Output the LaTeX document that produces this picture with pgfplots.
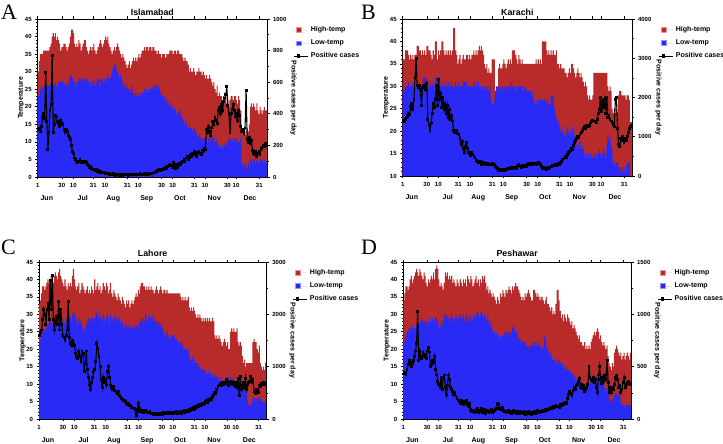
\documentclass[border=0pt]{standalone}
\usepackage{pgfplots}
\pgfplotsset{compat=1.18}
\usepackage{pgfplotstable}
\usepackage{fontspec}
\setmainfont{Liberation Sans}
\newfontfamily\letterfont{Liberation Serif}

\definecolor{hiFill}{RGB}{185,42,42}
\definecolor{hiEdge}{RGB}{240,150,150}
\definecolor{loFill}{RGB}{42,42,246}
\definecolor{loEdge}{RGB}{150,150,255}

% ---------------- Islamabad ----------------
\pgfplotstableread[row sep=\\]{v\\
30\\33\\35\\35\\35\\36\\36\\36\\36\\36\\
36\\37\\38\\40\\41\\40\\41\\39\\40\\39\\
38\\36\\37\\37\\38\\38\\37\\36\\37\\38\\
40\\42\\42\\41\\38\\37\\38\\37\\39\\38\\
36\\37\\38\\39\\39\\37\\36\\35\\36\\37\\
36\\37\\38\\36\\35\\36\\37\\38\\39\\38\\
37\\38\\39\\40\\39\\40\\38\\37\\36\\35\\
36\\37\\36\\37\\38\\37\\36\\35\\34\\35\\
34\\33\\32\\31\\32\\33\\31\\32\\33\\34\\
33\\34\\33\\34\\35\\34\\35\\36\\36\\37\\
36\\37\\37\\36\\37\\37\\36\\37\\37\\36\\
36\\35\\36\\35\\35\\34\\35\\35\\35\\34\\
35\\35\\35\\36\\36\\36\\35\\36\\36\\35\\
36\\36\\35\\35\\35\\34\\33\\34\\33\\33\\
32\\30\\31\\30\\30\\31\\30\\29\\30\\30\\
31\\30\\30\\29\\30\\29\\28\\29\\28\\28\\
29\\28\\27\\26\\27\\25\\24\\26\\23\\24\\
23\\23\\22\\23\\22\\23\\21\\22\\20\\22\\
23\\23\\22\\23\\23\\22\\21\\23\\22\\19\\
14\\13\\12\\13\\12\\14\\13\\15\\20\\21\\
20\\21\\20\\19\\21\\19\\18\\20\\19\\18\\
19\\20\\19\\19\\
}\hA
\pgfplotstableread[row sep=\\]{v\\
23\\23\\25\\26\\25\\26\\26\\25\\26\\26\\
26\\26\\27\\26\\26\\26\\27\\26\\26\\27\\
27\\27\\28\\27\\26\\27\\26\\27\\26\\28\\
29\\29\\28\\27\\27\\26\\27\\27\\28\\28\\
28\\27\\28\\28\\27\\28\\28\\27\\26\\27\\
26\\27\\28\\26\\27\\27\\28\\28\\26\\28\\
28\\27\\28\\27\\28\\29\\28\\28\\29\\30\\
31\\32\\32\\31\\30\\29\\28\\29\\28\\26\\
27\\26\\25\\26\\25\\25\\24\\26\\25\\24\\
23\\24\\23\\24\\23\\24\\23\\24\\24\\25\\
24\\25\\24\\25\\24\\25\\26\\25\\26\\26\\
26\\25\\26\\25\\24\\24\\23\\22\\23\\22\\
21\\22\\21\\20\\21\\20\\19\\20\\19\\18\\
18\\19\\19\\18\\17\\16\\17\\15\\16\\15\\
14\\15\\14\\14\\13\\14\\14\\13\\12\\12\\
11\\12\\11\\10\\11\\11\\10\\11\\10\\11\\
11\\10\\11\\12\\11\\10\\11\\10\\9\\8\\
9\\8\\9\\8\\9\\10\\9\\10\\11\\11\\
10\\11\\10\\11\\11\\10\\11\\10\\10\\11\\
3\\4\\3\\4\\2\\3\\4\\3\\5\\5\\
4\\5\\5\\4\\5\\5\\4\\5\\5\\5\\
4\\5\\4\\4\\
}\lA
\pgfplotstableread[row sep=\\]{v\\
300\\310\\290\\320\\380\\400\\370\\660\\350\\175\\
280\\420\\460\\770\\280\\330\\390\\380\\350\\340\\
320\\360\\330\\340\\300\\280\\300\\290\\260\\250\\
240\\200\\160\\150\\120\\110\\100\\90\\100\\110\\
90\\100\\95\\90\\100\\90\\80\\70\\60\\65\\
55\\50\\45\\40\\45\\35\\40\\30\\35\\30\\
25\\30\\25\\20\\25\\20\\18\\20\\18\\15\\
20\\15\\12\\15\\18\\14\\12\\15\\14\\12\\
15\\18\\14\\15\\12\\14\\16\\15\\14\\13\\
15\\16\\18\\15\\17\\20\\18\\16\\19\\20\\
18\\22\\20\\18\\21\\24\\22\\25\\28\\30\\
35\\40\\38\\45\\42\\48\\50\\45\\55\\60\\
55\\65\\70\\80\\75\\60\\90\\70\\55\\80\\
60\\75\\85\\80\\90\\100\\110\\95\\120\\130\\
110\\125\\140\\130\\150\\140\\160\\145\\130\\155\\
160\\150\\140\\170\\160\\180\\175\\300\\280\\320\\
290\\260\\310\\350\\330\\380\\360\\340\\420\\440\\
400\\460\\420\\480\\500\\520\\570\\450\\400\\280\\
400\\430\\460\\420\\380\\400\\360\\420\\390\\320\\
290\\300\\275\\310\\550\\240\\220\\250\\210\\230\\
170\\150\\140\\160\\130\\150\\160\\140\\180\\190\\
200\\195\\210\\200\\
}\cA

% ---------------- Karachi ----------------
\pgfplotstableread[row sep=\\]{v\\
36\\36\\38\\38\\38\\37\\36\\37\\36\\37\\
36\\37\\37\\39\\39\\38\\38\\37\\38\\37\\
38\\37\\39\\39\\38\\38\\37\\36\\38\\37\\
40\\40\\36\\38\\37\\38\\40\\40\\38\\37\\
38\\37\\38\\37\\38\\37\\38\\43\\43\\38\\
37\\35\\36\\37\\35\\36\\37\\36\\36\\37\\
37\\36\\37\\36\\37\\37\\38\\37\\38\\37\\
38\\39\\38\\39\\38\\37\\35\\34\\35\\33\\
34\\33\\33\\36\\36\\36\\29\\29\\29\\34\\
35\\34\\34\\35\\36\\35\\34\\35\\36\\35\\
36\\35\\38\\38\\38\\37\\36\\35\\37\\36\\
35\\36\\35\\35\\35\\35\\35\\35\\35\\35\\
35\\35\\35\\35\\36\\35\\36\\35\\36\\35\\
40\\40\\40\\40\\38\\37\\38\\37\\38\\37\\
38\\37\\37\\38\\35\\35\\34\\35\\34\\34\\
34\\33\\33\\32\\33\\34\\33\\35\\35\\34\\
33\\32\\33\\34\\33\\32\\33\\32\\31\\30\\
31\\30\\28\\27\\28\\27\\27\\28\\33\\33\\
33\\33\\33\\33\\33\\33\\33\\33\\33\\33\\
33\\30\\29\\30\\29\\25\\24\\25\\24\\25\\
24\\28\\29\\29\\28\\28\\28\\28\\27\\28\\
28\\27\\22\\22\\
}\hB
\pgfplotstableread[row sep=\\]{v\\
29\\29\\30\\30\\30\\31\\30\\30\\30\\31\\
30\\30\\30\\31\\30\\30\\30\\30\\30\\32\\
32\\32\\31\\30\\30\\31\\30\\31\\30\\30\\
32\\32\\32\\32\\32\\30\\31\\30\\30\\31\\
30\\30\\31\\30\\30\\31\\30\\30\\30\\31\\
30\\30\\31\\30\\30\\30\\31\\31\\31\\31\\
30\\30\\30\\30\\30\\30\\31\\30\\31\\30\\
31\\30\\30\\29\\30\\29\\30\\30\\29\\30\\
29\\30\\27\\26\\26\\27\\29\\30\\30\\29\\
30\\30\\29\\30\\30\\30\\29\\30\\30\\30\\
30\\31\\30\\30\\30\\29\\30\\30\\30\\30\\
30\\30\\29\\30\\30\\29\\29\\29\\29\\29\\
28\\29\\27\\26\\27\\26\\27\\27\\27\\27\\
27\\27\\27\\27\\26\\27\\26\\26\\28\\28\\
28\\25\\24\\23\\22\\22\\21\\20\\21\\20\\
19\\20\\19\\21\\20\\19\\20\\19\\21\\20\\
19\\18\\17\\16\\17\\18\\16\\17\\16\\15\\
14\\15\\14\\15\\14\\15\\14\\14\\15\\14\\
15\\14\\15\\16\\15\\14\\15\\16\\15\\14\\
17\\19\\18\\19\\17\\16\\13\\13\\12\\13\\
13\\12\\12\\11\\12\\11\\12\\11\\12\\13\\
13\\13\\10\\10\\
}\lB
\pgfplotstableread[row sep=\\]{v\\
1420\\1380\\1450\\1500\\1520\\1600\\1560\\1780\\1850\\1700\\
1950\\2500\\3000\\2300\\2250\\2300\\2200\\1800\\2250\\2300\\
2280\\2200\\2350\\1450\\1300\\1150\\1350\\1600\\1850\\1750\\
1950\\2300\\1800\\2450\\1950\\2100\\1750\\2000\\1700\\1850\\
1600\\1800\\1500\\1700\\1450\\1550\\1400\\1150\\1100\\1120\\
1150\\1080\\1050\\950\\800\\880\\700\\600\\750\\850\\
700\\600\\580\\520\\600\\550\\500\\480\\400\\380\\
350\\330\\360\\300\\320\\340\\310\\300\\280\\310\\
300\\290\\280\\310\\300\\290\\250\\220\\180\\150\\
160\\150\\170\\140\\160\\150\\170\\180\\200\\180\\
210\\190\\200\\230\\210\\220\\190\\260\\300\\250\\
220\\260\\280\\240\\270\\250\\300\\320\\280\\330\\
310\\300\\330\\310\\290\\320\\350\\330\\300\\250\\
200\\210\\190\\200\\170\\210\\190\\220\\250\\270\\
260\\280\\290\\270\\300\\310\\290\\350\\380\\420\\
450\\500\\480\\550\\600\\620\\650\\700\\680\\780\\
850\\900\\950\\1000\\980\\1050\\1100\\1150\\1200\\1250\\
1200\\1300\\1300\\1250\\1280\\1350\\1380\\1420\\1400\\1380\\
1350\\1450\\1600\\1700\\2000\\1650\\1900\\1750\\1950\\1600\\
2000\\1500\\1550\\1450\\1400\\1350\\1300\\1250\\1950\\2000\\
1200\\800\\750\\950\\900\\1000\\850\\950\\900\\1000\\
1100\\1200\\1250\\1280\\
}\cB

% ---------------- Lahore ----------------
\pgfplotstableread[row sep=\\]{v\\
33\\34\\36\\38\\38\\37\\38\\39\\40\\39\\
40\\41\\40\\39\\41\\42\\41\\40\\42\\43\\
41\\40\\39\\38\\40\\38\\37\\39\\38\\39\\
38\\41\\43\\40\\38\\37\\38\\39\\36\\37\\
39\\38\\37\\36\\37\\38\\36\\37\\36\\38\\
37\\36\\40\\37\\38\\39\\37\\38\\36\\37\\
39\\38\\37\\39\\38\\36\\37\\39\\36\\35\\
37\\36\\35\\34\\36\\35\\34\\33\\35\\34\\
33\\32\\34\\33\\34\\32\\33\\34\\33\\34\\
35\\36\\35\\37\\36\\38\\39\\39\\38\\38\\
37\\38\\37\\38\\37\\38\\37\\37\\36\\37\\
38\\37\\36\\37\\38\\37\\36\\37\\37\\36\\
37\\36\\36\\36\\36\\36\\36\\36\\36\\36\\
36\\36\\36\\35\\34\\35\\34\\35\\34\\34\\
35\\32\\31\\32\\31\\32\\31\\30\\29\\30\\
29\\30\\29\\28\\29\\28\\29\\28\\29\\28\\
29\\28\\28\\29\\28\\24\\23\\24\\23\\24\\
23\\22\\21\\22\\23\\22\\21\\22\\20\\20\\
25\\26\\25\\26\\25\\25\\26\\22\\21\\22\\
21\\18\\16\\17\\15\\16\\16\\16\\16\\16\\
16\\22\\23\\22\\22\\20\\19\\21\\16\\15\\
14\\15\\14\\16\\
}\hC
\pgfplotstableread[row sep=\\]{v\\
22\\23\\24\\25\\26\\25\\26\\27\\27\\28\\
28\\28\\27\\28\\28\\29\\28\\28\\27\\28\\
29\\28\\28\\29\\27\\28\\29\\28\\29\\29\\
28\\30\\31\\30\\29\\28\\27\\29\\28\\28\\
27\\26\\25\\26\\27\\28\\29\\29\\28\\29\\
29\\28\\29\\30\\31\\30\\29\\30\\29\\28\\
30\\29\\28\\29\\30\\29\\27\\30\\29\\28\\
29\\30\\29\\28\\29\\29\\28\\27\\28\\27\\
26\\27\\27\\26\\27\\26\\26\\27\\26\\27\\
26\\27\\27\\26\\28\\28\\29\\28\\29\\28\\
30\\29\\28\\30\\29\\29\\30\\29\\28\\29\\
28\\28\\27\\28\\27\\27\\26\\25\\24\\24\\
25\\24\\23\\23\\24\\24\\24\\24\\23\\23\\
22\\22\\21\\22\\22\\21\\20\\20\\20\\19\\
20\\18\\17\\17\\18\\16\\17\\16\\16\\16\\
15\\15\\14\\15\\14\\14\\14\\13\\13\\14\\
13\\13\\12\\13\\12\\12\\13\\12\\12\\11\\
12\\11\\11\\10\\11\\11\\10\\11\\12\\11\\
12\\11\\11\\12\\11\\10\\10\\9\\10\\9\\
9\\8\\9\\8\\9\\8\\5\\4\\4\\4\\
5\\6\\6\\6\\5\\6\\6\\6\\6\\5\\
5\\5\\5\\5\\
}\lC
\pgfplotstableread[row sep=\\]{v\\
1600\\1650\\1700\\1900\\2100\\2000\\1800\\2100\\2200\\1900\\
2650\\2100\\2750\\1900\\1700\\1850\\1950\\1800\\2250\\1700\\
2100\\1800\\1600\\1550\\1500\\1600\\1700\\2250\\1550\\1450\\
1400\\1500\\1450\\1400\\1250\\1200\\1150\\1300\\1200\\1100\\
1300\\1250\\900\\1050\\1300\\950\\800\\650\\560\\700\\
800\\900\\950\\1100\\1450\\1350\\1200\\1000\\750\\600\\
800\\700\\750\\650\\900\\1000\\800\\650\\600\\560\\
620\\550\\500\\480\\520\\450\\420\\400\\380\\350\\
360\\330\\300\\280\\300\\250\\260\\220\\210\\200\\
180\\60\\150\\300\\200\\150\\140\\160\\130\\150\\
170\\140\\120\\130\\150\\110\\100\\80\\100\\90\\
110\\100\\80\\90\\110\\100\\90\\120\\100\\110\\
120\\100\\130\\110\\120\\100\\110\\130\\120\\140\\
110\\130\\120\\150\\100\\140\\160\\120\\150\\170\\
140\\180\\160\\200\\190\\220\\180\\240\\210\\250\\
240\\280\\260\\300\\270\\290\\330\\350\\320\\380\\
360\\400\\380\\430\\450\\500\\480\\560\\620\\650\\
680\\640\\690\\660\\700\\680\\750\\720\\640\\700\\
680\\720\\650\\700\\620\\690\\600\\780\\450\\810\\
560\\640\\690\\600\\780\\560\\650\\690\\720\\810\\
700\\760\\520\\490\\560\\530\\500\\650\\620\\680\\
660\\690\\650\\680\\
}\cC

% ---------------- Peshawar ----------------
\pgfplotstableread[row sep=\\]{v\\
34\\36\\38\\38\\37\\38\\40\\41\\39\\40\\
41\\42\\43\\42\\41\\43\\42\\41\\40\\42\\
41\\39\\38\\40\\39\\40\\41\\40\\42\\40\\
43\\44\\43\\40\\38\\39\\38\\37\\39\\42\\
41\\42\\40\\41\\40\\41\\39\\40\\39\\38\\
40\\39\\38\\40\\39\\38\\40\\39\\40\\38\\
41\\40\\39\\41\\40\\38\\39\\40\\41\\39\\
40\\38\\40\\39\\41\\40\\41\\39\\37\\38\\
36\\37\\36\\35\\36\\35\\34\\33\\35\\34\\
33\\36\\35\\37\\36\\35\\37\\36\\37\\38\\
37\\36\\38\\37\\38\\39\\38\\38\\37\\36\\
35\\34\\35\\34\\36\\35\\36\\37\\36\\35\\
34\\34\\37\\37\\36\\35\\36\\35\\34\\35\\
35\\34\\33\\34\\35\\33\\33\\32\\31\\32\\
30\\31\\30\\33\\37\\37\\34\\31\\29\\30\\
28\\30\\29\\28\\30\\29\\28\\27\\28\\26\\
27\\26\\25\\24\\23\\24\\22\\22\\21\\21\\
22\\20\\21\\20\\21\\20\\22\\23\\24\\25\\
24\\25\\26\\25\\23\\24\\22\\21\\22\\21\\
20\\21\\18\\16\\15\\14\\16\\15\\19\\20\\
21\\20\\19\\18\\19\\17\\18\\19\\17\\18\\
19\\18\\17\\19\\
}\hD
\pgfplotstableread[row sep=\\]{v\\
22\\22\\24\\25\\25\\26\\26\\26\\27\\26\\
26\\26\\27\\26\\27\\28\\28\\29\\28\\28\\
28\\27\\28\\28\\27\\29\\28\\29\\28\\28\\
29\\29\\28\\27\\26\\28\\27\\28\\30\\30\\
29\\30\\29\\28\\29\\30\\29\\28\\29\\30\\
29\\28\\29\\30\\29\\29\\30\\28\\29\\30\\
29\\28\\30\\29\\28\\29\\30\\29\\30\\31\\
30\\29\\30\\31\\30\\29\\30\\29\\28\\30\\
28\\27\\28\\26\\25\\25\\24\\25\\24\\24\\
23\\24\\23\\24\\24\\25\\25\\24\\25\\25\\
24\\25\\26\\27\\26\\25\\25\\24\\23\\23\\
22\\23\\22\\22\\22\\21\\21\\20\\21\\21\\
21\\22\\21\\21\\22\\21\\21\\22\\21\\20\\
20\\21\\24\\23\\21\\20\\19\\18\\19\\18\\
17\\17\\17\\16\\17\\16\\17\\16\\15\\16\\
15\\15\\14\\14\\15\\14\\13\\14\\13\\13\\
12\\12\\11\\12\\11\\12\\11\\10\\10\\9\\
10\\9\\9\\10\\10\\11\\10\\11\\11\\10\\
11\\12\\12\\11\\12\\11\\10\\11\\11\\9\\
8\\9\\8\\6\\5\\6\\5\\6\\7\\8\\
7\\8\\7\\7\\5\\4\\4\\4\\3\\4\\
4\\4\\4\\4\\
}\lD
\pgfplotstableread[row sep=\\]{v\\
430\\440\\420\\470\\520\\560\\540\\500\\530\\560\\
600\\650\\720\\1030\\560\\650\\600\\580\\640\\600\\
620\\580\\650\\680\\640\\500\\520\\560\\540\\600\\
470\\420\\360\\330\\300\\400\\280\\400\\420\\300\\
230\\320\\420\\380\\300\\280\\260\\230\\250\\220\\
200\\180\\170\\150\\180\\160\\140\\170\\150\\180\\
140\\120\\150\\90\\70\\80\\60\\70\\90\\100\\
60\\80\\70\\100\\60\\80\\90\\50\\70\\80\\
60\\70\\90\\60\\70\\80\\90\\100\\150\\140\\
100\\90\\100\\110\\80\\70\\60\\70\\80\\60\\
70\\50\\60\\80\\70\\60\\50\\70\\60\\50\\
70\\60\\50\\70\\40\\60\\50\\70\\60\\50\\
40\\60\\50\\70\\60\\50\\80\\70\\60\\70\\
80\\75\\85\\90\\80\\95\\90\\100\\100\\110\\
100\\120\\110\\125\\115\\120\\110\\140\\130\\150\\
140\\150\\160\\145\\200\\230\\260\\240\\220\\270\\
300\\280\\320\\330\\360\\390\\300\\330\\290\\320\\
260\\280\\300\\330\\500\\400\\380\\360\\400\\350\\
380\\300\\250\\420\\500\\380\\340\\400\\360\\420\\
380\\560\\350\\250\\300\\250\\300\\280\\330\\400\\
420\\380\\300\\320\\250\\280\\350\\400\\300\\330\\
350\\360\\340\\330\\
}\cD

\tikzset{
  monthlbl/.style={font=\bfseries\fontsize{7}{8}\selectfont, anchor=base, yshift=-23.5pt},
  titlelbl/.style={font=\bfseries\fontsize{8.8}{10}\selectfont, anchor=base},
}

\newcommand\months{%
  \node[monthlbl] at ({axis cs:8,0}|-{rel axis cs:0,0}) {Jun};
  \node[monthlbl] at ({axis cs:41.5,0}|-{rel axis cs:0,0}) {Jul};
  \node[monthlbl] at ({axis cs:70,0}|-{rel axis cs:0,0}) {Aug};
  \node[monthlbl] at ({axis cs:101.2,0}|-{rel axis cs:0,0}) {Sep};
  \node[monthlbl] at ({axis cs:132.3,0}|-{rel axis cs:0,0}) {Oct};
  \node[monthlbl] at ({axis cs:164.3,0}|-{rel axis cs:0,0}) {Nov};
  \node[monthlbl] at ({axis cs:197.6,0}|-{rel axis cs:0,0}) {Dec};
}

\pgfplotsset{
  base/.style={
    scale only axis,
    xmin=-0.5, xmax=213.5,
    tick label style={font=\bfseries\fontsize{6}{7}\selectfont},
    /pgf/number format/assume math mode=true,
    /pgf/number format/1000 sep={},
    tick align=outside,
    major tick length=2.5pt,
    minor tick length=1.5pt,
    axis line style={line width=0.7pt},
    every tick/.append style={line width=0.6pt, black},
    label style={font=\bfseries\fontsize{7}{8}\selectfont},
  },
  tempax/.style={
    base,
    xtick={-0.5,22,32.7,51.4,62.3,83.1,93.4,115.2,125.5,145.7,155.6,176.5,184.6,206.3},
    xticklabels={1,30,10,31,10,31,10,30,10,31,10,30,10,31},
    xtick pos=both, ytick pos=left,
    minor y tick num=4,
    ylabel={Temperature},
    ylabel style={at={(axis description cs:-0.072,0.5)}, anchor=center},
    legend style={draw=none, fill=none, font=\bfseries\fontsize{7}{8}\selectfont,
      at={(axis description cs:1.116,0.965)}, anchor=north west, row sep=2.6pt, inner sep=0pt},
    legend cell align=left,
  },
  caseax/.style={
    base,
    axis x line=none, axis y line*=right,
    ymin=0, minor y tick num=1,
    ylabel={Positive cases per day},
    ylabel style={rotate=180, at={(axis description cs:1.115,0.5)}, anchor=center},
  },
  hibar/.style={ybar, bar width=1, bar shift=0pt, fill=hiFill, draw=none,
    legend image code/.code={\path (0pt,0pt) -- (14pt,0pt); \draw[fill=hiFill, draw=hiEdge, line width=0.7pt] (2.3pt,-2.2pt) rectangle (6.7pt,2.2pt);}},
  lobar/.style={ybar, bar width=1, bar shift=0pt, fill=loFill, draw=none,
    legend image code/.code={\path (0pt,0pt) -- (14pt,0pt); \draw[fill=loFill, draw=loEdge, line width=0.7pt] (2.3pt,-2.2pt) rectangle (6.7pt,2.2pt);}},
  caseline/.style={black, line width=1.1pt, mark=square*, mark size=0.9pt,
    legend image code/.code={\path (0pt,0pt) -- (14pt,0pt); \draw[black, line width=1.1pt] (0pt,0pt) -- (9pt,0pt); \fill[black] (3.5pt,-1.1pt) rectangle (5.5pt,1.1pt);}},
}

\begin{document}
\begin{tikzpicture}[x=1pt,y=1pt]
\useasboundingbox (0,0) rectangle (723,444);

% ===== A =====
\begin{axis}[tempax, at={(37.7pt,267pt)}, width=229.3pt, height=158pt,
  ymin=0, ymax=45, ytick={0,5,...,45},
  after end axis/.code={\months \node[titlelbl, yshift=3.2pt] at (rel axis cs:0.5,1) {Islamabad};}]
  \addplot[hibar] table[x expr=\coordindex, y=v]{\hA};
  \addlegendentry{High-temp}
  \addplot[lobar] table[x expr=\coordindex, y=v]{\lA};
  \addlegendentry{Low-temp}
  \addlegendimage{caseline}
  \addlegendentry{Positive cases}
\end{axis}
\begin{axis}[caseax, at={(37.7pt,267pt)}, width=229.3pt, height=158pt,
  ymax=1000, ytick={0,200,...,1000}]
  \addplot[caseline] table[x expr=\coordindex, y=v]{\cA};
\end{axis}

% ===== B =====
\begin{axis}[tempax, at={(402.7pt,268pt)}, width=229.3pt, height=157pt,
  ymin=10, ymax=45, ytick={10,15,...,45},
  after end axis/.code={\months \node[titlelbl, yshift=3.2pt] at (rel axis cs:0.5,1) {Karachi};}]
  \addplot[hibar] table[x expr=\coordindex, y=v]{\hB};
  \addlegendentry{High-temp}
  \addplot[lobar] table[x expr=\coordindex, y=v]{\lB};
  \addlegendentry{Low-temp}
  \addlegendimage{caseline}
  \addlegendentry{Positive cases}
\end{axis}
\begin{axis}[caseax, at={(402.7pt,268pt)}, width=229.3pt, height=157pt,
  ymax=4000, ytick={0,1000,...,4000}]
  \addplot[caseline] table[x expr=\coordindex, y=v]{\cB};
\end{axis}

% ===== C =====
\begin{axis}[tempax, at={(39pt,25pt)}, width=227.3pt, height=157pt,
  ymin=0, ymax=45, ytick={0,5,...,45},
  after end axis/.code={\months \node[titlelbl, yshift=6pt] at (rel axis cs:0.5,1) {Lahore};}]
  \addplot[hibar] table[x expr=\coordindex, y=v]{\hC};
  \addlegendentry{High-temp}
  \addplot[lobar] table[x expr=\coordindex, y=v]{\lC};
  \addlegendentry{Low-temp}
  \addlegendimage{caseline}
  \addlegendentry{Positive cases}
\end{axis}
\begin{axis}[caseax, at={(39pt,25pt)}, width=227.3pt, height=157pt,
  ymax=3000, ytick={0,1000,...,3000}]
  \addplot[caseline] table[x expr=\coordindex, y=v]{\cC};
\end{axis}

% ===== D =====
\begin{axis}[tempax, at={(403.3pt,25pt)}, width=227.7pt, height=157pt,
  ymin=0, ymax=45, ytick={0,5,...,45},
  after end axis/.code={\months \node[titlelbl, yshift=6pt] at (rel axis cs:0.5,1) {Peshawar};}]
  \addplot[hibar] table[x expr=\coordindex, y=v]{\hD};
  \addlegendentry{High-temp}
  \addplot[lobar] table[x expr=\coordindex, y=v]{\lD};
  \addlegendentry{Low-temp}
  \addlegendimage{caseline}
  \addlegendentry{Positive cases}
\end{axis}
\begin{axis}[caseax, at={(403.3pt,25pt)}, width=227.7pt, height=157pt,
  ymax=1500, ytick={0,500,1000,1500}]
  \addplot[caseline] table[x expr=\coordindex, y=v]{\cD};
\end{axis}

% panel letters
\node[anchor=base west, inner sep=0pt, font=\letterfont\fontsize{22}{22}\selectfont] at (1,424) {A};
\node[anchor=base west, inner sep=0pt, font=\letterfont\fontsize{22}{22}\selectfont] at (361,424) {B};
\node[anchor=base west, inner sep=0pt, font=\letterfont\fontsize{22}{22}\selectfont] at (1,189) {C};
\node[anchor=base west, inner sep=0pt, font=\letterfont\fontsize{22}{22}\selectfont] at (361,189) {D};
\end{tikzpicture}
\end{document}
